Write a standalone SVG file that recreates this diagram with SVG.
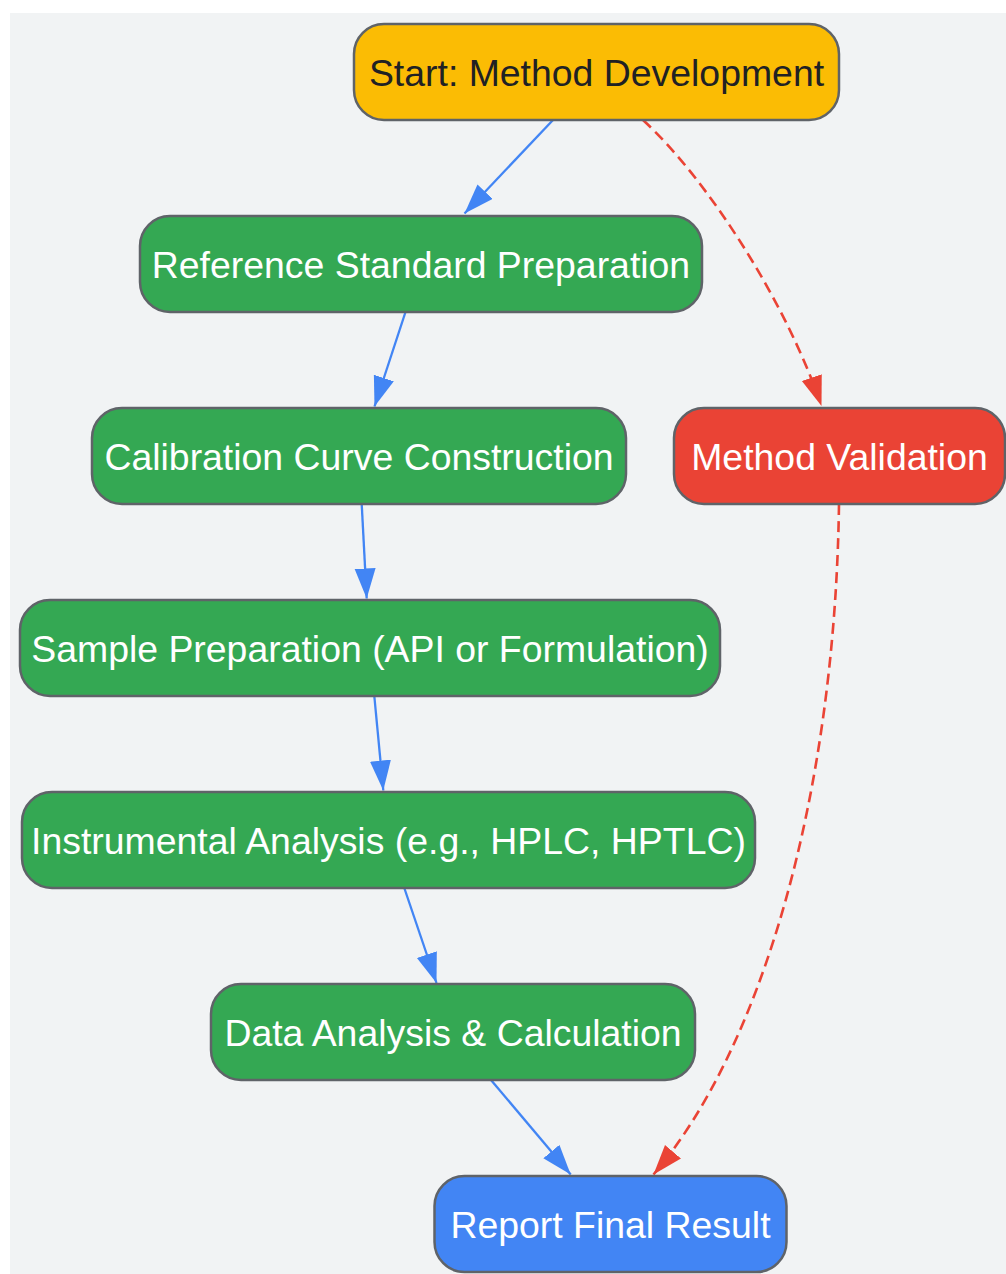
<svg xmlns="http://www.w3.org/2000/svg" width="1006" height="1274" viewBox="0 0 1006 1274">
<style>
.node rect{stroke:#5f6368;stroke-width:2.5}
.node text{font-family:"Liberation Sans",Arial,sans-serif;font-size:37.4px;text-anchor:middle;fill:#ffffff}
.green rect{fill:#34a853}
.e{fill:none;stroke-width:2.3}
.blue{stroke:#4285f4;marker-end:url(#ab)}
.red{stroke:#ea4335;stroke-width:2.6;stroke-dasharray:11 6;marker-end:url(#ar)}
</style>
<defs>
<marker id="ab" markerUnits="userSpaceOnUse" markerWidth="31" markerHeight="22" refX="30" refY="10.5" orient="auto"><path d="M0,0 L30,10.5 L0,21 Z" fill="#4285f4"/></marker>
<marker id="ar" markerUnits="userSpaceOnUse" markerWidth="31" markerHeight="22" refX="30" refY="10.5" orient="auto"><path d="M0,0 L30,10.5 L0,21 Z" fill="#ea4335"/></marker>
</defs>
<rect x="10" y="13" width="996" height="1261" fill="#f1f3f4"/>
<g id="edges">
<path class="e blue" d="M553,120 L464.5,213.5"/>
<path class="e blue" d="M405.5,312 L374.5,406.5"/>
<path class="e blue" d="M361.7,504 L366.7,598.5"/>
<path class="e blue" d="M374.3,696 L383.3,790.5"/>
<path class="e blue" d="M404.3,888 L436.5,983"/>
<path class="e blue" d="M491,1080 L570.7,1174.5"/>
<path class="e red" d="M643,120 C708,180 786,302 821.5,406"/>
<path class="e red" d="M839,504 C835,800 760,1050 653.5,1174.5"/>
</g>
<g id="start" class="node"><rect x="354" y="24" width="485" height="96" rx="30" fill="#fbbc04"/><text x="596.5" y="86" style="fill:#202124">Start: Method Development</text></g>
<g id="ref" class="node green"><rect x="140" y="216" width="562" height="96" rx="30"/><text x="421" y="278">Reference Standard Preparation</text></g>
<g id="cal" class="node green"><rect x="92" y="408" width="534" height="96" rx="30"/><text x="359" y="470">Calibration Curve Construction</text></g>
<g id="val" class="node"><rect x="674" y="408" width="331" height="96" rx="30" fill="#ea4335"/><text x="839.5" y="470">Method Validation</text></g>
<g id="sample" class="node green"><rect x="20" y="600" width="700" height="96" rx="30"/><text x="370" y="662">Sample Preparation (API or Formulation)</text></g>
<g id="instr" class="node green"><rect x="22" y="792" width="733" height="96" rx="30"/><text x="388.5" y="854">Instrumental Analysis (e.g., HPLC, HPTLC)</text></g>
<g id="data" class="node green"><rect x="211" y="984" width="484" height="96" rx="30"/><text x="453" y="1046">Data Analysis &amp; Calculation</text></g>
<g id="report" class="node"><rect x="434.5" y="1176" width="352" height="96" rx="30" fill="#4285f4"/><text x="610.5" y="1238">Report Final Result</text></g>
</svg>
